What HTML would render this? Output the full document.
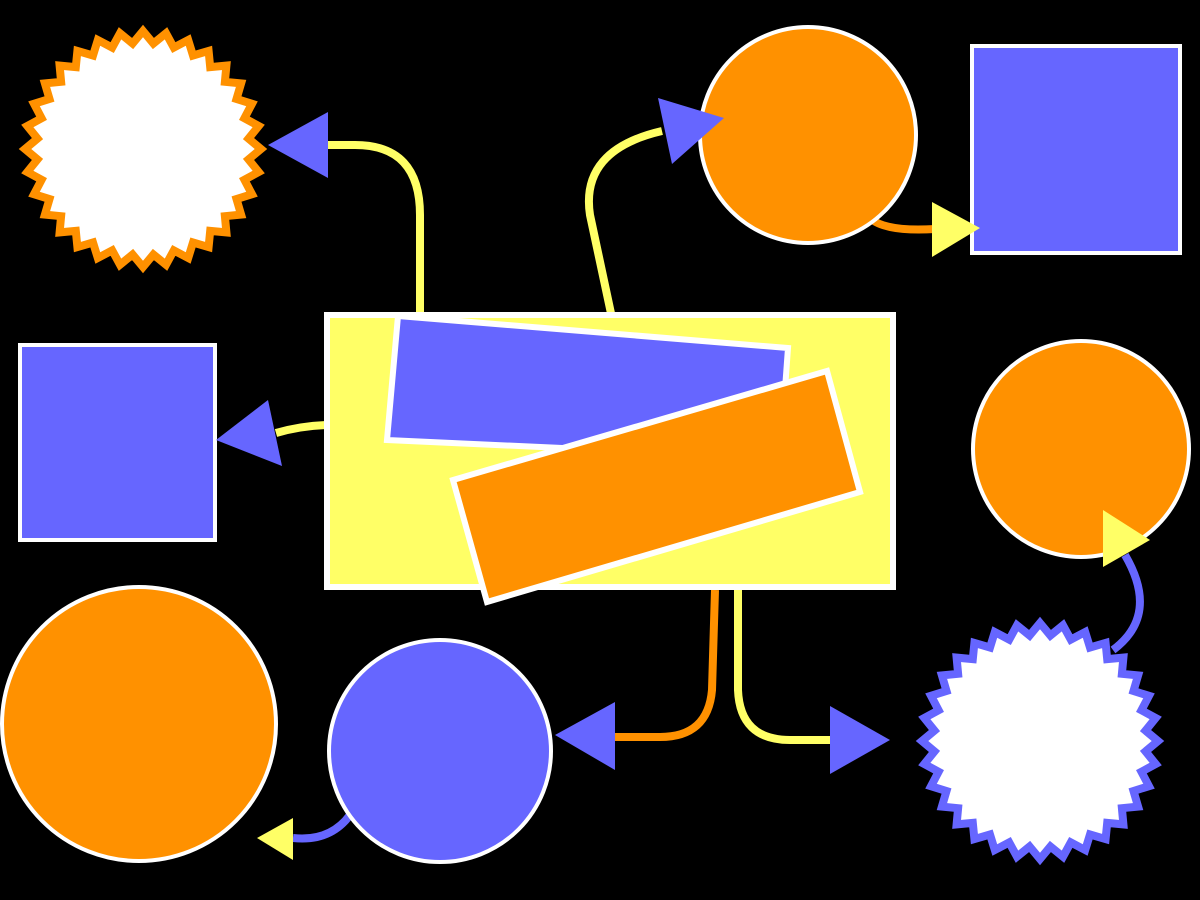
<!DOCTYPE html>
<html><head><meta charset="utf-8"><style>html,body{margin:0;padding:0;background:#000;width:1200px;height:900px;overflow:hidden}</style></head>
<body>
<svg id="s" width="1200" height="900" viewBox="0 0 1200 900" xmlns="http://www.w3.org/2000/svg">
<rect width="1200" height="900" fill="#000"/>
<polygon id="st1" fill="#fff" stroke="#ff9100" stroke-width="8" stroke-linejoin="miter"/>
<polygon id="st2" fill="#fff" stroke="#6666ff" stroke-width="8" stroke-linejoin="miter"/>
<!-- connectors -->
<g fill="none" stroke-width="8">
<path d="M420 313 L420 215 Q420 145 355 145 L328 145" stroke="#ffff66"/>
<path d="M612 318 L590 215 Q580 150 662 131" stroke="#ffff66"/>
<path d="M870 218 Q885 232 935 229" stroke="#ff9100"/>
<path d="M326 425 Q300 426 276 433" stroke="#ffff66"/>
<path d="M715 590 L712 690 Q708 737 660 737 L615 737" stroke="#ff9100"/>
<path d="M738 587 L738 690 Q740 740 790 740 L832 740" stroke="#ffff66"/>
<path d="M1113 650 Q1160 615 1125 555" stroke="#6666ff"/>
<path d="M350 815 Q330 842 293 838" stroke="#6666ff"/>
</g>
<rect x="972" y="46" width="208" height="207" fill="#6666ff" stroke="#fff" stroke-width="4"/>
<rect x="20" y="345" width="195" height="195" fill="#6666ff" stroke="#fff" stroke-width="4"/>
<circle cx="808" cy="135" r="108" fill="#ff9100" stroke="#fff" stroke-width="4"/>
<circle cx="1081" cy="449" r="108" fill="#ff9100" stroke="#fff" stroke-width="4"/>
<circle cx="139" cy="724" r="137" fill="#ff9100" stroke="#fff" stroke-width="4"/>
<circle cx="440" cy="751" r="111" fill="#6666ff" stroke="#fff" stroke-width="4"/>
<rect x="327" y="315" width="566" height="272" fill="#ffff66" stroke="#fff" stroke-width="6"/>
<polygon points="398,316 788,348 780,458 387,440" fill="#6666ff" stroke="#fff" stroke-width="6"/>
<polygon points="453,480 827,371 860,492 487,602" fill="#ff9100" stroke="#fff" stroke-width="6"/>
<!-- arrowheads -->
<polygon points="268,145 328,112 328,178" fill="#6666ff"/>
<polygon points="724,118 658,98 672,164" fill="#6666ff"/>
<polygon points="980,228 932,202 932,257" fill="#ffff66"/>
<polygon points="216,440 268,400 282,466" fill="#6666ff"/>
<polygon points="555,735 615,702 615,770" fill="#6666ff"/>
<polygon points="890,740 830,706 830,774" fill="#6666ff"/>
<polygon points="1150,540 1103,510 1103,567" fill="#ffff66"/>
<polygon points="257,838 293,818 293,860" fill="#ffff66"/>
</svg>
<script>
function star(id,cx,cy,ro,ri,n){var p=[];for(var i=0;i<2*n;i++){var a=Math.PI*i/n-Math.PI/2;var r=i%2?ri:ro;p.push((cx+r*Math.cos(a)).toFixed(1)+","+(cy+r*Math.sin(a)).toFixed(1));}document.getElementById(id).setAttribute("points",p.join(" "));}
star("st1",143,149,118,106,32);
star("st2",1040,741,118,106,32);
</script>
</body></html>
